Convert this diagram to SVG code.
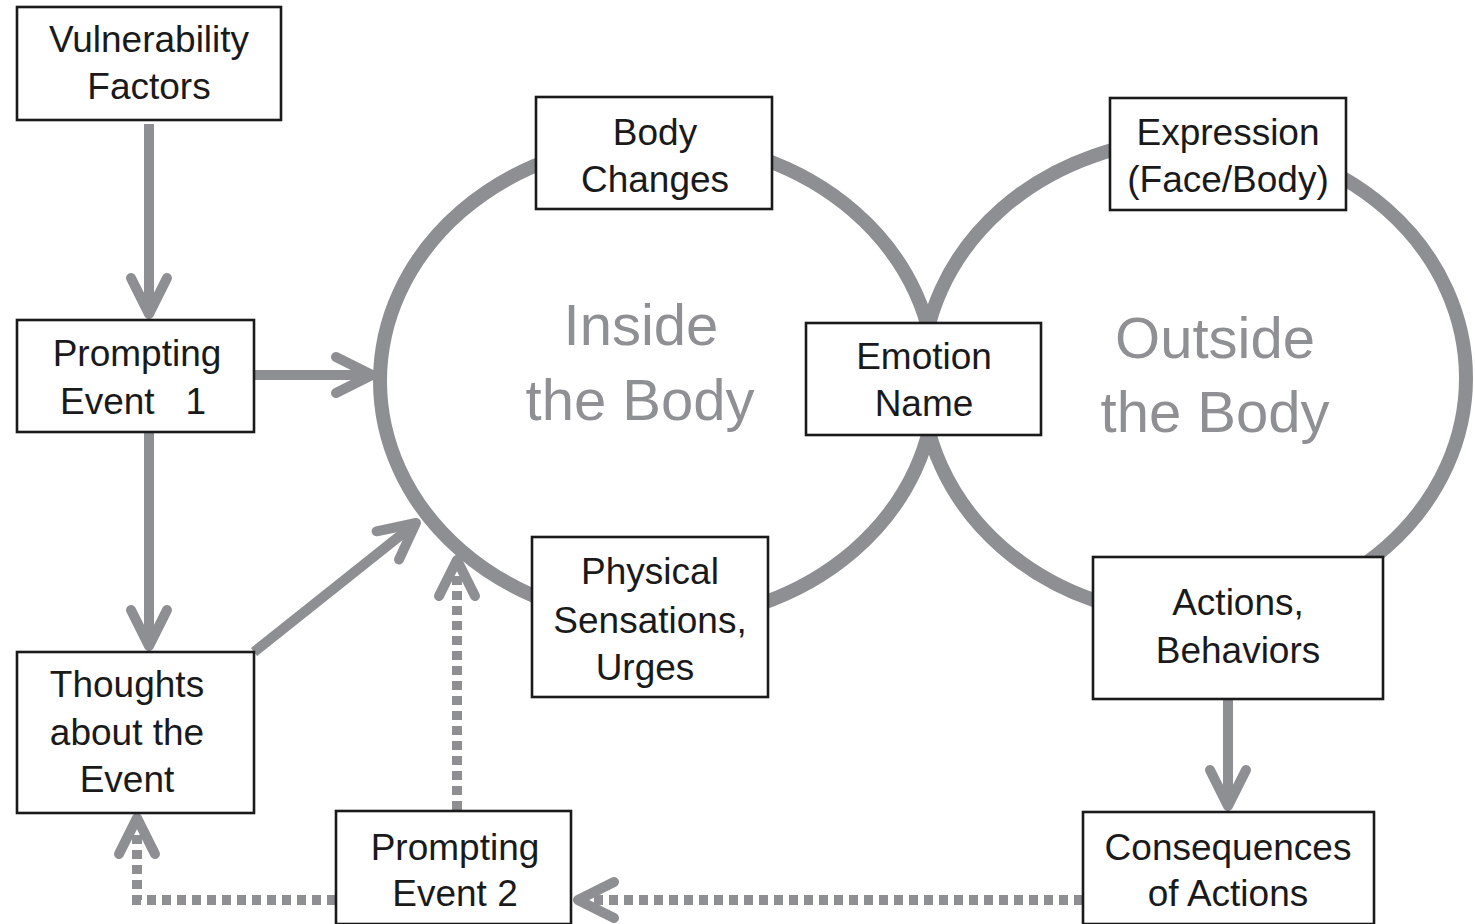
<svg xmlns="http://www.w3.org/2000/svg" width="1475" height="924" viewBox="0 0 1475 924">
<style>
.box{fill:#fff;stroke:#1a1a1a;stroke-width:2.6}
.lbl{font-family:"Liberation Sans",Arial,sans-serif;font-size:37px;fill:#1a1a1a;text-anchor:middle}
.big{font-family:"Liberation Sans",Arial,sans-serif;font-size:58px;fill:#8f9094;text-anchor:middle}
.ring{fill:none;stroke:#8e8f93;stroke-width:14}
.ln{fill:none;stroke:#8e8f93;stroke-width:10}
.dot{fill:none;stroke:#8e8f93;stroke-width:10;stroke-dasharray:9 6}
</style>
<defs>
<marker id="arr" markerUnits="userSpaceOnUse" markerWidth="60" markerHeight="60" viewBox="-45 -30 60 60" refX="0" refY="0" orient="auto" overflow="visible">
<path d="M-36,-18 L0,0 L-36,18" fill="none" stroke="#8e8f93" stroke-width="10" stroke-dasharray="none" stroke-linecap="round" stroke-linejoin="round"/>
</marker>
</defs>
<rect width="1475" height="924" fill="#fff"/>
<g id="rings">
<ellipse class="ring" cx="657.5" cy="381" rx="277.5" ry="240"/>
<ellipse class="ring" cx="1194" cy="378" rx="272" ry="239"/>
<text class="big" x="641" y="345">Inside</text>
<text class="big" x="640" y="420">the Body</text>
<text class="big" x="1215" y="358">Outside</text>
<text class="big" x="1215" y="432">the Body</text>
</g>
<g id="connectors">
<path class="ln" d="M149,124 V314" marker-end="url(#arr)"/>
<path class="ln" d="M254,375 H372" marker-end="url(#arr)"/>
<path class="ln" d="M149,432 V646" marker-end="url(#arr)"/>
<path class="ln" d="M254,652 L416,523" marker-end="url(#arr)"/>
<path class="ln" d="M1228,699 V806" marker-end="url(#arr)"/>
<path class="dot" d="M457,810 V560" marker-end="url(#arr)"/>
<path class="dot" d="M336,900 H137 V818" marker-end="url(#arr)"/>
<path class="dot" d="M1083,900 H578" marker-end="url(#arr)"/>
</g>
<g id="vulnerability"><rect class="box" x="17" y="7" width="264" height="113"/><text class="lbl" x="149" y="52">Vulnerability</text><text class="lbl" x="149" y="99">Factors</text></g>
<g id="prompting1"><rect class="box" x="17" y="320" width="237" height="112"/><text class="lbl" x="137" y="366">Prompting</text><text class="lbl" x="133" y="414" xml:space="preserve">Event   1</text></g>
<g id="thoughts"><rect class="box" x="17" y="652" width="237" height="161"/><text class="lbl" x="127" y="697">Thoughts</text><text class="lbl" x="127" y="745">about the</text><text class="lbl" x="127" y="792">Event</text></g>
<g id="prompting2"><rect class="box" x="336" y="811" width="235" height="113"/><text class="lbl" x="455" y="860">Prompting</text><text class="lbl" x="455" y="906">Event 2</text></g>
<g id="bodychanges"><rect class="box" x="536" y="97" width="236" height="112"/><text class="lbl" x="655" y="145">Body</text><text class="lbl" x="655" y="192">Changes</text></g>
<g id="expression"><rect class="box" x="1110" y="98" width="236" height="112"/><text class="lbl" x="1228" y="145">Expression</text><text class="lbl" x="1228" y="192">(Face/Body)</text></g>
<g id="emotion"><rect class="box" x="806" y="323" width="235" height="112"/><text class="lbl" x="924" y="369">Emotion</text><text class="lbl" x="924" y="416">Name</text></g>
<g id="physical"><rect class="box" x="532" y="537" width="236" height="160"/><text class="lbl" x="650" y="584">Physical</text><text class="lbl" x="650" y="633">Sensations,</text><text class="lbl" x="645" y="680">Urges</text></g>
<g id="actions"><rect class="box" x="1093" y="557" width="290" height="142"/><text class="lbl" x="1238" y="615">Actions,</text><text class="lbl" x="1238" y="663">Behaviors</text></g>
<g id="consequences"><rect class="box" x="1083" y="812" width="291" height="112"/><text class="lbl" x="1228" y="860">Consequences</text><text class="lbl" x="1228" y="906">of Actions</text></g>
</svg>
